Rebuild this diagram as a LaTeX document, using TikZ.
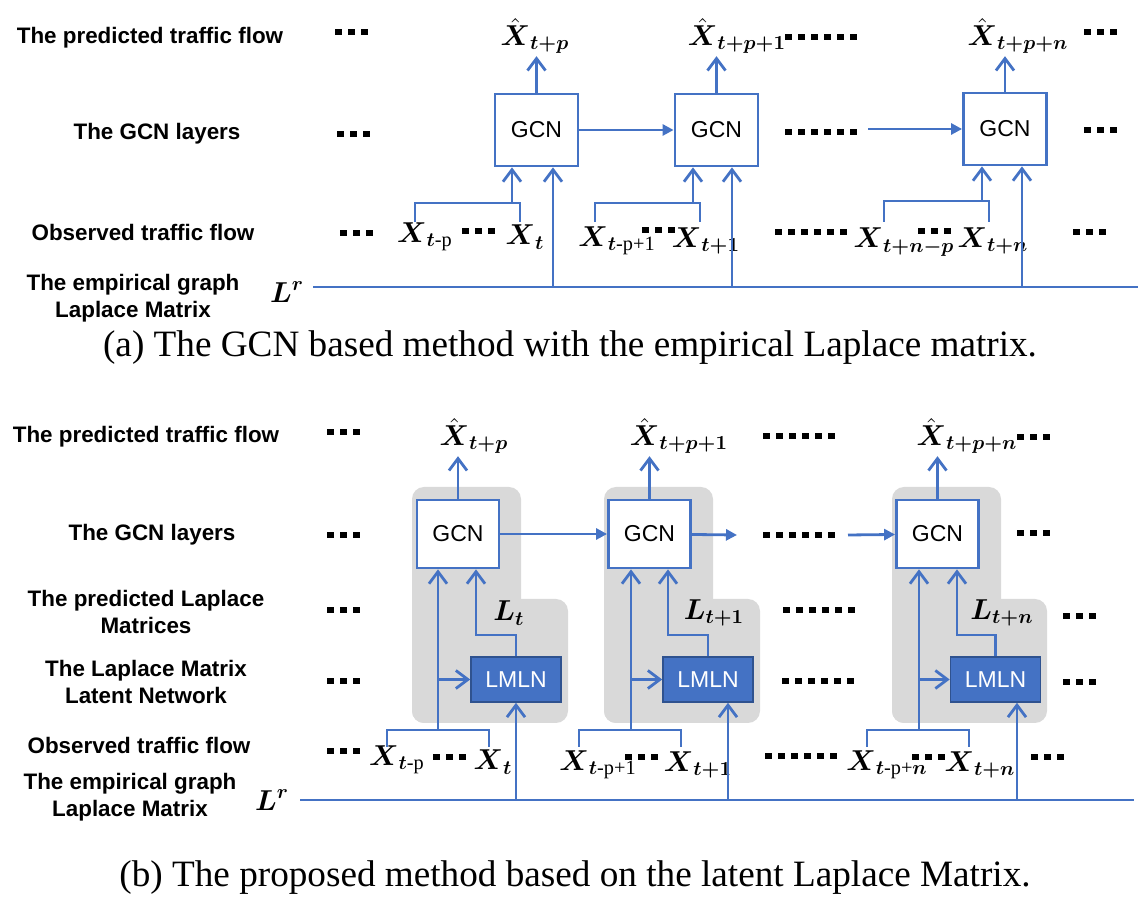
\documentclass[tikz,border=0pt]{standalone}
\usepackage{amsmath,amssymb}
\usepackage{fontspec}
\setmainfont{Liberation Serif}
\setsansfont{Liberation Sans}
\usepackage{tikz}
\usetikzlibrary{arrows.meta}

\definecolor{lineblue}{HTML}{4472C4}
\definecolor{boxblue}{HTML}{2F528F}

\newcommand{\sqdots}[3]{\foreach \k in {1,...,#3} \fill ({#1+(\k-1)*13},{#2-3.2}) rectangle +(6.5,6.5);}

\tikzset{
  lab/.style={font=\sffamily\bfseries\fontsize{11.2}{13.5}\selectfont, align=center},
  var/.style={font=\fontsize{14.5}{16}\selectfont, inner sep=1pt},
  gcn/.style={draw=lineblue, line width=1.4pt, fill=white, minimum width=41pt, minimum height=34pt, inner sep=0pt, font=\sffamily\fontsize{11.5}{13}\selectfont},
  lmln/.style={draw=boxblue, line width=0.8pt, fill=lineblue, text=white, minimum width=45pt, minimum height=22.5pt, inner sep=0pt, font=\sffamily\fontsize{11.5}{13}\selectfont},
  flow/.style={draw=lineblue, line width=1.4pt},
  uparr/.style={flow, -{Straight Barb[length=6pt,width=9pt]}},
  fwd/.style={flow, -{Triangle[length=5.5pt,width=5.5pt]}},
  captext/.style={font=\fontsize{18.6}{20}\selectfont},
  blkfill/.style={fill=gray!30, rounded corners=6pt}
}

\begin{document}
\begin{tikzpicture}[x=0.5pt,y=-0.5pt]
\useasboundingbox (0,0) rectangle (1148,914);
%\draw[help lines] (0,0) grid[step=50] (1148,914);

%%% (a)
\node[lab] (pa) at (150,38) {The predicted traffic flow};
\node[lab] (ga) at (157,134) {The GCN layers};
\node[lab] (oa) at (143,232) {Observed traffic flow};
\node[lab] (ea) at (133,298) {The empirical graph\\Laplace Matrix};
\node[var] (lra) at (287,292) {$\boldsymbol{L}^{\boldsymbol{r}}$};

\node[gcn, minimum width=41.5pt, minimum height=36pt] (gA1) at (536.5,130) {GCN};
\node[gcn, minimum width=41.5pt, minimum height=36pt] (gA2) at (716.5,130) {GCN};
\node[gcn, minimum width=41.5pt, minimum height=36pt] (gA3) at (1005,129) {GCN};

\node[var] (yA1) at (535,36) {$\hat{\boldsymbol{X}}_{\boldsymbol{t+p}}$};
\node[var] (yA2) at (737,36) {$\hat{\boldsymbol{X}}_{\boldsymbol{t+p+1}}$};
\node[var] (yA3) at (1018,36) {$\hat{\boldsymbol{X}}_{\boldsymbol{t+p+n}}$};
\draw[uparr] (gA1.north) -- (gA1.north |- yA1.south);
\draw[uparr] (gA2.north) -- (gA2.north |- yA2.south);
\draw[uparr] (gA3.north) -- (gA3.north |- yA3.south);

\draw[fwd] (gA1) -- (gA2);
\coordinate (mA) at (868,129);
\draw[fwd] (mA) -- (gA3);

\node[var] (xA1) at (425,237) {$\boldsymbol{X}_{\boldsymbol{t}\text{-p}}$};
\node[var] (xA2) at (525,237) {$\boldsymbol{X}_{\boldsymbol{t}}$};
\node[var] (xA3) at (617,241) {$\boldsymbol{X}_{\boldsymbol{t}\text{-p+1}}$};
\node[var] (xA4) at (706,241) {$\boldsymbol{X}_{\boldsymbol{t+1}}$};
\node[var] (xA5) at (904,242) {$\boldsymbol{X}_{\boldsymbol{t+n-p}}$};
\node[var] (xA6) at (993,241) {$\boldsymbol{X}_{\boldsymbol{t+n}}$};

\coordinate (bA1) at (512,203);
\coordinate (bA2) at (693,203);
\coordinate (bA3) at (982,201);
\draw[flow] (415,222) |- (bA1) -| (520,222);
\draw[flow] (595,222) |- (bA2) -| (700,222);
\draw[flow] (884,222) |- (bA3) -| (989,222);
\draw[uparr] (bA1) -- (bA1 |- gA1.south);
\draw[uparr] (bA2) -- (bA2 |- gA2.south);
\draw[uparr] (bA3) -- (bA3 |- gA3.south);

\coordinate (lA0) at (313,287);
\coordinate (lA1) at (553,287);
\coordinate (lA2) at (732,287);
\coordinate (lA3) at (1022,287);
\coordinate (lA4) at (1138,287);
\draw[flow] (lA0) -- (lA4);
\draw[uparr] (lA1) -- (lA1 |- gA1.south);
\draw[uparr] (lA2) -- (lA2 |- gA2.south);
\draw[uparr] (lA3) -- (lA3 |- gA3.south);

\sqdots{335}{32}{3} \sqdots{785}{37}{6} \sqdots{1084}{32}{3}
\sqdots{337}{134}{3} \sqdots{785}{132}{6} \sqdots{1084}{130}{3}
\sqdots{340}{233}{3} \sqdots{462}{231}{3} \sqdots{642}{230}{3}
\sqdots{775}{232}{6} \sqdots{918}{231}{3} \sqdots{1073}{232}{3}

\node[captext] (capa) at (570,348) {(a) The GCN based method with the empirical Laplace matrix.};

%%% (b)
\node[lab] (pb) at (146,437) {The predicted traffic flow};
\node[lab] (gb) at (152,535) {The GCN layers};
\node[lab] (lb) at (146,612) {The predicted Laplace\\Matrices};
\node[lab] (nb) at (146,682) {The Laplace Matrix\\Latent Network};
\node[lab] (ob) at (139,745) {Observed traffic flow};
\node[lab] (eb) at (130,797) {The empirical graph\\Laplace Matrix};
\node[var] (lrb) at (272,800) {$\boldsymbol{L}^{\boldsymbol{r}}$};

\fill[blkfill] (412,487) rectangle (521,723);
\fill[blkfill] (412,599) rectangle (568,723);
\fill[blkfill] (604,487) rectangle (713,723);
\fill[blkfill] (604,599) rectangle (760,723);
\fill[blkfill] (892,487) rectangle (1001,723);
\fill[blkfill] (892,599) rectangle (1047,723);

\node[gcn] (gB1) at (458,534) {GCN};
\node[gcn] (gB2) at (649.5,534) {GCN};
\node[gcn] (gB3) at (937.5,534) {GCN};
\node[lmln] (mB1) at (516,679.5) {LMLN};
\node[lmln] (mB2) at (708,679.5) {LMLN};
\node[lmln] (mB3) at (995.5,679.5) {LMLN};

\node[var] (yB1) at (474,436) {$\hat{\boldsymbol{X}}_{\boldsymbol{t+p}}$};
\node[var] (yB2) at (679,436) {$\hat{\boldsymbol{X}}_{\boldsymbol{t+p+1}}$};
\node[var] (yB3) at (967,436) {$\hat{\boldsymbol{X}}_{\boldsymbol{t+p+n}}$};
\draw[uparr] (gB1.north) -- (gB1.north |- yB1.south);
\draw[uparr] (gB2.north) -- (gB2.north |- yB2.south);
\draw[uparr] (gB3.north) -- (gB3.north |- yB3.south);

\coordinate (mB) at (737,535);
\coordinate (nB) at (848,535);
\draw[fwd] (gB1) -- (gB2);
\draw[fwd] (gB2) -- (mB);
\draw[fwd] (nB) -- (gB3);

\node[var] (lt1) at (509,613) {$\boldsymbol{L}_{\boldsymbol{t}}$};
\node[var] (lt2) at (714,613) {$\boldsymbol{L}_{\boldsymbol{t+1}}$};
\node[var] (lt3) at (1002,613) {$\boldsymbol{L}_{\boldsymbol{t+n}}$};
\coordinate (kB1) at (476,635);
\coordinate (kB2) at (668,635);
\coordinate (kB3) at (957,635);
\draw[uparr] (mB1.north) |- (kB1) -- (kB1 |- gB1.south);
\draw[uparr] (mB2.north) |- (kB2) -- (kB2 |- gB2.south);
\draw[uparr] (mB3.north) |- (kB3) -- (kB3 |- gB3.south);

\node[var] (xB1) at (397,760) {$\boldsymbol{X}_{\boldsymbol{t}\text{-p}}$};
\node[var] (xB2) at (493,762) {$\boldsymbol{X}_{\boldsymbol{t}}$};
\node[var] (xB3) at (598,765) {$\boldsymbol{X}_{\boldsymbol{t}\text{-p+1}}$};
\node[var] (xB4) at (698,765) {$\boldsymbol{X}_{\boldsymbol{t+1}}$};
\node[var] (xB5) at (887,765) {$\boldsymbol{X}_{\boldsymbol{t}\text{-p+}\boldsymbol{n}}$};
\node[var] (xB6) at (980,765) {$\boldsymbol{X}_{\boldsymbol{t+n}}$};

\coordinate (bB1) at (438,730);
\coordinate (bB2) at (631,730);
\coordinate (bB3) at (919,730);
\draw[flow] (387,747) |- (bB1) -| (489,747);
\draw[flow] (579,747) |- (bB2) -| (681,747);
\draw[flow] (867,747) |- (bB3) -| (969,747);
\draw[uparr] (bB1) -- (bB1 |- gB1.south);
\draw[uparr] (bB2) -- (bB2 |- gB2.south);
\draw[uparr] (bB3) -- (bB3 |- gB3.south);
\coordinate (jB1) at (438,679.5);
\coordinate (jB2) at (631,679.5);
\coordinate (jB3) at (919,679.5);
\draw[uparr] (jB1) -- (mB1.west);
\draw[uparr] (jB2) -- (mB2.west);
\draw[uparr] (jB3) -- (mB3.west);

\coordinate (lB0) at (300,800);
\coordinate (lB1) at (516,800);
\coordinate (lB2) at (728,800);
\coordinate (lB3) at (1017,800);
\coordinate (lB4) at (1134,800);
\draw[flow] (lB0) -- (lB4);
\draw[uparr] (lB1) -- (lB1 |- mB1.south);
\draw[uparr] (lB2) -- (lB2 |- mB2.south);
\draw[uparr] (lB3) -- (lB3 |- mB3.south);

\sqdots{327}{432}{3} \sqdots{763}{436}{6} \sqdots{1017}{437}{3}
\sqdots{327}{535}{3} \sqdots{763}{535}{6} \sqdots{1017}{533}{3}
\sqdots{327}{610}{3} \sqdots{783}{610}{6} \sqdots{1063}{616}{3}
\sqdots{327}{681}{3} \sqdots{782}{681}{6} \sqdots{1063}{682}{3}
\sqdots{327}{751}{3} \sqdots{433}{757}{3} \sqdots{625}{757}{3}
\sqdots{765}{756}{6} \sqdots{912}{757}{3} \sqdots{1031}{757}{3}

\node[captext] (capb) at (575,878) {(b) The proposed method based on the latent Laplace Matrix.};
\end{tikzpicture}
\end{document}
